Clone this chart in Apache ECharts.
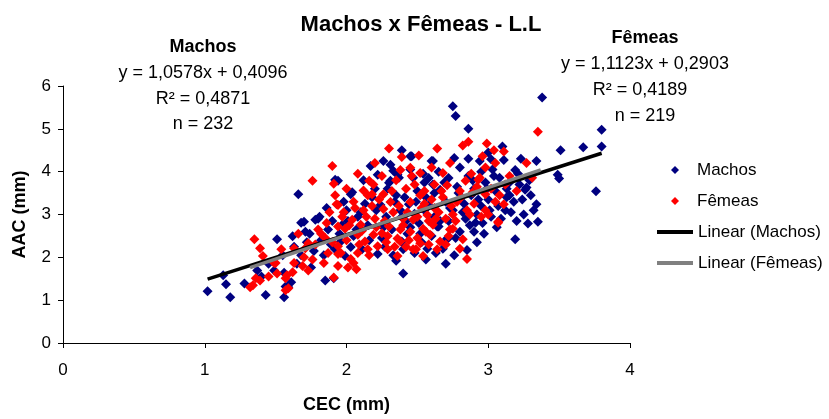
<!DOCTYPE html>
<html>
<head>
<meta charset="utf-8">
<title>Machos x Fêmeas - L.L</title>
<script src="https://cdn.jsdelivr.net/npm/echarts@6/dist/echarts.min.js"></script>
<style>
  html, body { margin: 0; padding: 0; background: #fff; }
  #chart { width: 829px; height: 419px; }
</style>
</head>
<body>
<div id="chart"></div>
<script>
/* ---------- data (CEC, AAC) ---------- */
const machos = [
  [1.02,1.21],[1.18,1.07],[1.15,1.37],[1.13,1.58],[1.28,1.39],[1.43,1.12],[1.56,1.07],[1.51,2.42],
  [1.62,2.49],[1.59,1.30],[1.56,1.64],[1.37,1.69],[1.66,3.47],[1.70,2.83],[1.80,2.90],[1.92,3.81],
  [2.04,3.52],[2.17,4.13],[2.26,4.25],[2.31,4.16],[2.39,4.50],[2.31,3.79],[2.36,3.93],[3.38,5.73],
  [2.75,5.53],[2.77,5.30],[2.86,5.00],[3.80,4.98],[3.80,4.59],[3.67,4.57],[3.51,4.50],[3.49,3.93],
  [3.50,3.84],[3.76,3.54],[3.34,4.25],[3.19,4.04],[3.27,3.63],[3.34,3.24],[3.35,2.83],[3.28,2.79],
  [3.08,3.86],[3.13,3.40],[3.11,4.27],[3.02,4.29],[2.94,4.25],[2.76,4.32],[2.60,4.25],[2.45,4.36],
  [3.10,4.59],[2.91,2.81],[2.90,2.60],[3.19,2.42],[2.85,2.17],[2.64,2.72],[2.71,2.42],[2.40,1.62],
  [2.40,2.19],[3.26,3.58],[3.15,3.45],[2.71,2.44],[2.65,2.72],[2.63,2.10],[2.35,1.92],[1.99,2.03],
  [2.03,2.24],[1.96,2.37],[1.97,2.76],[2.22,2.08],[2.39,2.37],[2.11,2.19],[2.03,3.47],[2.24,3.22],
  [2.44,3.24],[2.56,3.40],[1.68,2.81],[1.71,2.60],[1.57,1.32],[1.49,1.69],[1.61,1.42],[1.65,1.85],
  [1.75,1.76],[1.85,1.46],[1.91,1.51],[1.78,2.88],[1.87,2.65],[1.92,2.19],[1.81,2.95],[2.46,4.36],
  [2.61,4.25],[2.33,4.02],[2.37,3.86],[2.22,3.93],[2.30,3.74],[2.47,3.86],[2.61,3.70],[1.94,3.79],
  [2.50,3.55],[2.55,3.10],[2.62,2.95],[2.70,3.30],[2.78,3.65],[2.82,3.05],[2.88,3.45],[2.95,3.20],
  [2.98,3.75],[3.02,2.95],[3.05,3.55],[3.12,3.10],[3.18,3.30],[3.22,3.70],[3.25,3.00],[3.30,3.45],
  [2.42,2.85],[2.48,3.02],[2.52,2.55],[2.58,3.85],[2.66,3.58],[2.72,2.85],[2.80,2.60],[2.86,3.90],
  [2.92,3.00],[3.00,3.35],[3.06,2.70],[2.35,3.45],[2.28,2.95],[2.20,3.60],[2.15,2.75],[2.10,3.05],
  [2.05,2.50],[2.00,3.10],[1.95,2.55],[1.90,2.85],[1.86,3.15],[1.82,2.40],[1.77,2.15],[1.72,2.35],
  [1.68,2.05],[1.63,2.25],[1.55,2.05],[1.45,1.85],[1.40,1.55],[2.25,2.45],[2.32,2.65],[2.38,3.10],
  [2.45,2.70],[2.53,2.35],[2.60,2.50],[2.68,2.20],[2.75,3.10],[2.84,2.90],[2.90,3.60],[2.97,2.55],
  [3.04,3.90],[3.15,3.75],[3.20,2.85],[2.45,4.05],[2.55,3.75],[2.65,4.00],[2.72,3.85],[2.80,4.10],
  [2.86,4.30],[2.95,4.00],[3.00,4.45],[2.18,3.40],[2.12,3.80],[2.08,2.95],[2.27,2.25],[2.33,2.05],
  [2.48,2.10],[2.56,1.95],[2.70,1.85],
  [2.58,3.22],[2.62,3.50],[2.66,2.85],[2.69,3.75],[2.73,3.15],[2.77,2.45],[2.79,3.50],[2.83,3.25],
  [2.87,2.75],[2.89,3.80],[2.93,3.35],[2.96,2.80],[2.99,3.60],[3.01,3.10],[3.03,4.05],[3.07,3.20],
  [3.09,2.90],[3.13,3.60],[3.16,3.05],[3.21,3.95],[3.24,3.35],[3.29,3.80],[3.32,3.10],[3.23,4.30],
  [2.41,3.40],[2.43,2.55],[2.49,3.30],[2.51,2.80],[2.54,3.95],[2.39,2.95],[2.34,3.30],[2.29,3.60],
  [2.26,2.70],[2.21,3.10],[2.16,2.40],[2.13,3.25],[2.07,2.65],[2.01,2.85],[1.89,2.30],[1.84,2.05],
  [1.74,2.55],[1.98,3.30],[2.57,2.20],[2.76,2.05],[2.92,2.35]
];
const femeas = [
  [2.30,4.54],[2.39,4.34],[1.90,4.13],[1.76,3.79],[1.91,3.72],[2.08,3.95],[2.16,3.79],[1.93,3.24],
  [1.97,2.95],[2.12,3.56],[2.18,3.47],[2.26,3.47],[2.38,4.04],[3.35,4.93],[2.64,4.54],[2.82,4.61],
  [2.86,4.70],[2.99,4.66],[3.04,4.50],[3.11,4.47],[2.96,4.36],[2.51,4.38],[2.73,4.20],[2.68,3.97],
  [3.27,4.20],[3.31,3.86],[2.45,4.09],[2.52,3.97],[2.94,3.86],[3.11,3.24],[3.07,2.83],[2.98,3.47],
  [2.89,3.52],[2.85,3.10],[2.84,3.79],[2.93,3.81],[2.71,3.68],[1.35,2.42],[1.39,2.21],[1.41,2.03],
  [1.36,1.51],[1.39,1.46],[1.32,1.30],[1.54,2.19],[1.49,1.87],[1.58,1.58],[1.57,1.51],[1.59,1.28],
  [1.63,1.87],[1.73,1.69],[1.71,2.21],[1.87,2.10],[1.84,1.87],[1.91,1.53],[1.94,1.80],[2.01,1.76],
  [2.03,1.96],[2.08,2.10],[2.13,2.37],[2.22,2.26],[2.29,2.19],[2.36,2.03],[2.38,2.37],[1.80,2.65],
  [1.73,2.33],[1.34,1.35],[1.57,1.23],[1.51,1.62],[1.63,2.21],[1.50,1.87],[3.07,2.81],[2.82,2.42],
  [2.85,1.96],[2.64,2.19],[2.54,2.03],[2.49,2.19],[2.66,2.37],[2.73,2.65],[2.54,2.67],[2.98,3.10],
  [2.75,2.67],[1.94,3.22],[1.94,2.72],[1.94,2.08],[2.05,1.87],[2.07,1.72],[2.15,2.19],[2.19,2.53],
  [2.25,2.56],[2.30,2.72],[2.36,2.44],[2.45,2.60],[2.47,2.19],[2.52,2.33],[2.59,2.53],[2.61,2.76],
  [2.57,2.99],[2.47,2.88],[2.45,3.29],[2.52,3.45],[2.31,3.29],[2.26,3.13],[2.15,3.45],[2.12,3.10],
  [2.04,2.88],[2.10,2.76],[1.99,2.67],[2.08,2.53],[1.94,2.26],[2.35,3.80],[2.42,3.60],[2.55,3.25],
  [2.62,3.15],[2.68,3.40],[2.75,3.00],[2.78,3.30],[2.90,3.25],[2.95,2.95],[3.02,3.60],[3.08,3.45],
  [3.15,3.90],[3.20,3.55],[2.40,2.90],[2.33,3.05],[2.20,2.90],[2.18,3.20],[2.05,3.30],[2.00,3.60],
  [1.88,3.05],[1.85,2.45],[1.78,2.30],[1.70,2.00],[1.66,2.55],[2.28,2.35],[2.42,2.25],[2.58,2.85],
  [2.65,3.05],[2.70,2.90],[2.80,3.55],[2.88,3.95],[2.98,4.10],[3.05,4.20],[2.60,4.10],[2.25,3.90],
  [2.20,4.20],[2.48,3.70],[2.55,3.55],[2.62,3.70],[2.72,2.50],[2.80,2.20],[2.58,2.30],[2.38,2.65],
  [2.50,2.45],
  [1.82,2.55],[1.86,2.80],[1.90,2.35],[1.92,3.45],[1.96,2.10],[1.98,3.05],[2.00,2.40],[2.02,2.75],
  [2.06,3.15],[2.09,2.30],[2.11,2.62],[2.14,2.95],[2.16,2.05],[2.19,3.70],[2.21,2.70],[2.23,3.35],
  [2.27,2.85],[2.29,2.50],[2.32,3.55],[2.34,2.25],[2.37,3.20],[2.40,2.75],[2.43,3.05],[2.44,2.40],
  [2.46,3.90],[2.50,2.95],[2.53,3.15],[2.56,2.60],[2.60,3.35],[2.63,2.90],[2.67,3.55],[2.70,2.30],
  [2.74,3.20],[2.77,2.85],[2.81,3.40],[2.87,3.00],[2.92,3.65],[3.00,3.00],[3.05,3.30],[3.12,3.70],
  [1.76,1.95],[1.69,1.80],[1.62,1.65],[1.45,1.55]
];
// trend line end points (Excel linear fit drawn over the data range)
const linearMachos = [[1.02, 1.49], [3.80, 4.43]];
const linearFemeas = [[1.32, 1.76], [3.37, 4.04]];

const xTicks = { min: 0, max: 4, interval: 1 };
const yTicks = { min: 0, max: 6, interval: 1 };

const FONT = "Liberation Sans";
const FS = 18;

/* ---------- chart ---------- */
const chart = echarts.init(document.getElementById("chart"), null, { renderer: "canvas" });

function txt(text, x, y, bold) {
  return {
    type: "text", x, y, silent: true,
    style: {
      text, x: 0, y: 0, align: "center", verticalAlign: "middle",
      font: `${bold ? "bold " : ""}${FS}px "${FONT}"`, fill: "#000",
    },
  };
}

const legendText = { fontFamily: FONT, fontSize: 17, color: "#000", lineHeight: 20 };

chart.setOption({
  animation: false,
  backgroundColor: "#fff",
  textStyle: { fontFamily: FONT },
  title: {
    text: "Machos x Fêmeas - L.L",
    left: 416, top: 9, textAlign: "center",
    textStyle: { fontFamily: FONT, fontSize: 22, fontWeight: "bold", color: "#000" },
  },
  graphic: [
    txt("Machos", 203, 47, true),
    txt("y = 1,0578x + 0,4096", 203, 73),
    txt("R² = 0,4871", 203, 99),
    txt("n = 232", 203, 124),
    txt("Fêmeas", 645, 38, true),
    txt("y = 1,1123x + 0,2903", 645, 64),
    txt("R² = 0,4189", 640, 90),
    txt("n = 219", 645, 116),
  ],
  legend: [
    {
      orient: "vertical", left: 671, top: 160, padding: 0,
      itemWidth: 8, itemHeight: 8, itemGap: 11, icon: "diamond",
      textStyle: { ...legendText, padding: [0, 0, 0, 13] },
      data: ["Machos", "Fêmeas"],
    },
    {
      orient: "vertical", left: 657, top: 222, padding: 0,
      itemWidth: 36, itemHeight: 4, itemGap: 11, icon: "rect",
      textStyle: { ...legendText },
      data: ["Linear (Machos)", "Linear (Fêmeas)"],
    },
  ],
  grid: { left: 63, right: 199, top: 86, bottom: 70 },
  xAxis: {
    type: "value", ...xTicks,
    name: "CEC (mm)", nameLocation: "middle", nameGap: 53,
    nameTextStyle: { fontFamily: FONT, fontSize: FS, fontWeight: "bold", color: "#000" },
    axisLine: { onZero: false, lineStyle: { color: "#000", width: 1 } },
    axisTick: { show: true, length: 5, lineStyle: { color: "#000" } },
    axisLabel: { fontFamily: FONT, fontSize: 17, color: "#000", margin: 19 },
    splitLine: { show: false },
  },
  yAxis: {
    type: "value", ...yTicks,
    name: "AAC (mm)", nameLocation: "middle", nameGap: 34,
    nameTextStyle: { fontFamily: FONT, fontSize: FS, fontWeight: "bold", color: "#000" },
    axisLine: { show: true, onZero: false, lineStyle: { color: "#000", width: 1 } },
    axisTick: { show: true, length: 5, lineStyle: { color: "#000" } },
    axisLabel: { fontFamily: FONT, fontSize: 17, color: "#000", margin: 12 },
    splitLine: { show: false },
  },
  series: [
    {
      name: "Machos", type: "scatter", data: machos,
      symbol: "diamond", symbolSize: 10,
      itemStyle: { color: "#000080", opacity: 1 },
    },
    {
      name: "Fêmeas", type: "scatter", data: femeas,
      symbol: "diamond", symbolSize: 10,
      itemStyle: { color: "#ff0000", opacity: 1 },
    },
    {
      name: "Linear (Machos)", type: "line", data: linearMachos,
      symbol: "none", lineStyle: { color: "#000", width: 3.5 }, itemStyle: { color: "#000" },
    },
    {
      name: "Linear (Fêmeas)", type: "line", data: linearFemeas,
      symbol: "none", lineStyle: { color: "#808080", width: 3.5 }, itemStyle: { color: "#808080" },
    },
  ],
});
</script>
</body>
</html>
